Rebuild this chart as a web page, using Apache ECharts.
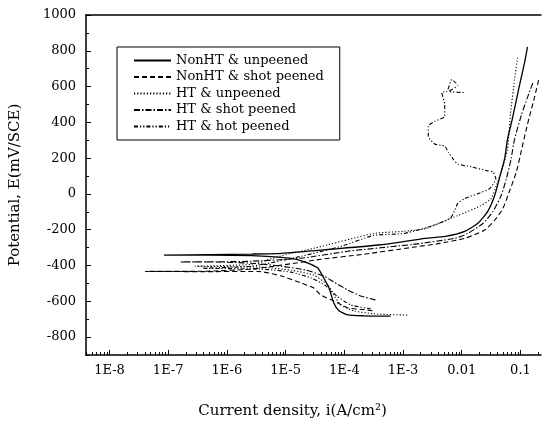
<!DOCTYPE html>
<html>
<head>
<meta charset="utf-8">
<title>Polarization curves</title>
<script src="https://cdn.jsdelivr.net/npm/echarts@6/dist/echarts.min.js"></script>
<style>
  html, body { margin: 0; padding: 0; background: #fff; }
  #chart { width: 542px; height: 424px; }
</style>
</head>
<body>
<div id="chart"></div>
<script>
// x values are log10 of the current density (A/cm2), y values are E in mV/SCE
// each curve runs from the cathodic end, through Ecorr, to the anodic end

var seriesNames = ['NonHT & unpeened', 'NonHT & shot peened', 'HT & unpeened', 'HT & shot peened', 'HT & hot peened'];

var nonhtUnpeenedLogI = [-3.21, -3.67, -3.94, -4.09, -4.18, -4.26, -4.35, -4.45, -4.62, -4.82, -5.07, -5.58, -6.30, -7.07,
  -6.30, -5.58, -5.07, -4.23, -3.38, -2.62, -2.28, -1.95, -1.73, -1.56, -1.44, -1.36, -1.27, -1.22, -1.14, -1.02, -0.93, -0.88];
var nonhtUnpeenedE = [-683, -681, -676, -653, -609, -526, -470, -415, -387, -365, -354, -345, -342, -342,
  -339, -336, -332, -309, -284, -248, -237, -209, -165, -99, -10, 85, 196, 306, 417, 601, 734, 822];

var nonhtShotLogI = [-3.52, -3.67, -3.94, -4.18, -4.40, -4.52, -4.73, -5.07, -5.46, -6.40, -7.39,
  -6.40, -5.58, -5.07, -4.40, -3.67, -2.83, -2.37, -1.95, -1.61, -1.44, -1.30, -1.19, -1.07, -0.99, -0.88, -0.77, -0.68];
var nonhtShotE = [-653, -646, -637, -598, -565, -526, -498, -459, -433, -434, -433,
  -432, -420, -398, -365, -337, -298, -276, -248, -202, -147, -82, 12, 123, 234, 390, 528, 650];

var htUnpeenedLogI = [-2.93, -3.50, -3.84, -4.06, -4.18, -4.28, -4.52, -4.91, -5.41, -6.54,
  -5.58, -5.07, -4.52, -3.50, -2.99, -2.62, -2.07, -1.67, -1.50, -1.41, -1.33, -1.22, -1.17, -1.10, -1.05];
var htUnpeenedE = [-677, -670, -653, -620, -565, -509, -454, -426, -409, -404,
  -393, -345, -304, -221, -209, -193, -121, -65, -26, 46, 123, 251, 445, 639, 761];

var htShotLogI = [-3.47, -3.72, -3.94, -4.18, -4.35, -4.65, -5.07, -5.58, -6.09, -6.80,
  -6.09, -5.58, -4.73, -3.94, -2.83, -2.12, -1.90, -1.64, -1.47, -1.33, -1.24, -1.16, -1.10, -0.98, -0.88, -0.78];
var htShotE = [-592, -570, -537, -492, -459, -426, -404, -387, -381, -380,
  -379, -376, -359, -320, -282, -248, -221, -165, -99, -10, 85, 196, 306, 445, 540, 628];

var htHotLogI = [-3.55, -3.89, -4.13, -4.31, -4.56, -4.91, -5.41, -6.42,
  -5.58, -4.73, -4.06, -3.50, -2.99, -2.54, -2.20, -2.12, -2.07, -1.95, -1.73, -1.53, -1.42, -1.47, -1.56, -1.83,
  -2.07, -2.15, -2.23, -2.29, -2.46, -2.57, -2.57, -2.46, -2.29, -2.29, -2.34, -2.25, -2.17, -2.07, -2.22, -1.95];
var htHotE = [-642, -620, -570, -515, -470, -437, -420, -415,
  -404, -348, -293, -232, -221, -182, -137, -93, -54, -26, 1, 29, 85, 123, 129, 151,
  168, 196, 234, 268, 279, 323, 379, 406, 434, 501, 567, 573, 639, 606, 573, 567];

// axis ticks (log10 of current) and labels
var xMajor = [-8, -7, -6, -5, -4, -3, -2, -1];
var xLabels = ['1E-8', '1E-7', '1E-6', '1E-5', '1E-4', '1E-3', '0.01', '0.1'];
var yMajor = [-800, -600, -400, -200, 0, 200, 400, 600, 800, 1000];
var yMinor = [-900, -700, -500, -300, -100, 100, 300, 500, 700, 900];

var xMin = -8.4, xMax = -0.65;
var xMinor = [];
for (var d = -9; d <= -1; d++) {
  for (var k = 2; k <= 9; k++) {
    var v = d + Math.log10(k);
    if (v > xMin && v < xMax) xMinor.push(v);
  }
}

function pairs(xs, ys) {
  var out = [];
  for (var i = 0; i < xs.length; i++) out.push([xs[i], ys[i]]);
  return out;
}

var font = "'DejaVu Serif', serif";
var black = '#000';

var curves = [
  { x: nonhtUnpeenedLogI, y: nonhtUnpeenedE, type: 'solid', width: 1.3 },
  { x: nonhtShotLogI, y: nonhtShotE, type: [5, 3], width: 1.1 },
  { x: htUnpeenedLogI, y: htUnpeenedE, type: [1.2, 2], width: 1.1 },
  { x: htShotLogI, y: htShotE, type: [6, 2, 1.5, 2], width: 1.1 },
  { x: htHotLogI, y: htHotE, type: [4, 2, 1.2, 2, 1.2, 2], width: 1.1 }
];

var series = curves.map(function (c, i) {
  return {
    name: seriesNames[i],
    type: 'line',
    xAxisIndex: 0,
    yAxisIndex: 0,
    symbol: 'none',
    smooth: 0.2,
    lineStyle: { color: black, width: c.width, type: c.type },
    itemStyle: { color: black },
    data: pairs(c.x, c.y)
  };
});

var myChart = echarts.init(document.getElementById('chart'));
var option = {
  animation: false,
  backgroundColor: '#fff',
  grid: { left: 84, top: 15, right: 1, bottom: 67, containLabel: false },
  legend: {
    orient: 'vertical',
    left: 117,
    top: 47,
    padding: [7, 16, 7, 16],
    itemWidth: 37,
    itemHeight: 14,
    itemGap: 3.5,
    borderColor: black,
    borderWidth: 1,
    data: seriesNames,
    itemStyle: { opacity: 0 },
    textStyle: { fontFamily: font, fontSize: 13, color: black }
  },
  xAxis: [
    {
      type: 'value', min: xMin, max: xMax, position: 'bottom',
      axisLine: { onZero: false, lineStyle: { color: black, width: 1.5 } },
      axisTick: { inside: true, length: 5, customValues: xMajor, lineStyle: { color: black } },
      axisLabel: {
        customValues: xMajor, margin: 9, color: black, fontFamily: font, fontSize: 13,
        formatter: function (v) { return xLabels[xMajor.indexOf(Math.round(v))]; }
      },
      splitLine: { show: false },
      name: 'Current density, i(A/cm²)',
      nameLocation: 'middle',
      nameGap: 49,
      nameTextStyle: { color: black, fontFamily: font, fontSize: 15, padding: [0, 42, 0, 0] }
    },
    {
      type: 'value', min: xMin, max: xMax, position: 'top',
      axisLine: { show: true, onZero: false, lineStyle: { color: black, width: 1.5 } },
      axisTick: { show: false }, axisLabel: { show: false }, splitLine: { show: false }
    },
    {
      type: 'value', min: xMin, max: xMax, position: 'bottom',
      axisLine: { show: false, onZero: false },
      axisTick: { inside: true, length: 3, customValues: xMinor, lineStyle: { color: black } },
      axisLabel: { show: false }, splitLine: { show: false }
    }
  ],
  yAxis: [
    {
      type: 'value', min: -900, max: 1000, position: 'left',
      axisLine: { show: true, onZero: false, lineStyle: { color: black, width: 1.5 } },
      axisTick: { inside: true, length: 5, customValues: yMajor, lineStyle: { color: black } },
      axisLabel: {
        customValues: yMajor, margin: 10, color: black, fontFamily: font, fontSize: 13,
        formatter: function (v) { return String(v); }
      },
      splitLine: { show: false },
      name: 'Potential, E(mV/SCE)',
      nameLocation: 'middle',
      nameGap: 63,
      nameTextStyle: { color: black, fontFamily: font, fontSize: 15 }
    },
    {
      type: 'value', min: -900, max: 1000, position: 'left',
      axisLine: { show: false, onZero: false },
      axisTick: { inside: true, length: 3, customValues: yMinor, lineStyle: { color: black } },
      axisLabel: { show: false }, splitLine: { show: false }
    }
  ],
  series: series
};
myChart.setOption(option);
</script>
</body>
</html>
